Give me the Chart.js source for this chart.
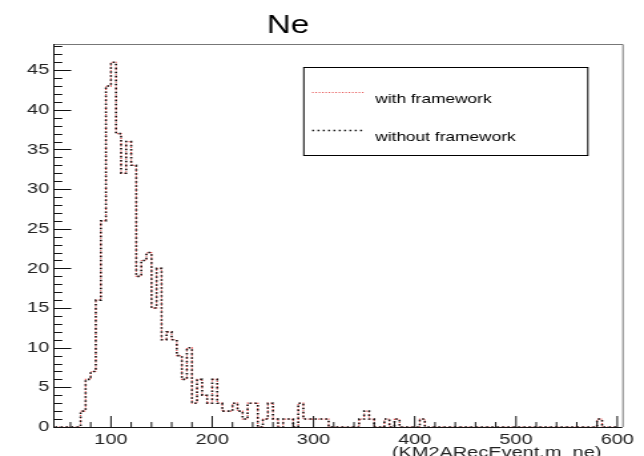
<!DOCTYPE html>
<html lang="en">
<head>
  <meta charset="UTF-8" />
  <title>Ne</title>
  <script src="https://cdn.jsdelivr.net/npm/chart.js"></script>
  <style>
    html, body { margin: 0; padding: 0; background: #fff; overflow: hidden; }
    /* the original ROOT canvas was stretched sideways, so the canvas is too */
    #neChart { display: block; transform: scaleX(1.3306); transform-origin: 0 0; }
  </style>
</head>
<body>
  <canvas id="neChart" width="484" height="456"></canvas>

  <script>
    // histogram binning: 5 wide, first low edge at 45
    const binStart = 45;
    const binWidth = 5;

    // counts per bin, 10 bins per row (45..90, 95..140, ...)
    const withFramework = [
      0, 0, 0, 0, 0, 2, 6, 7, 16, 26,
      43, 46, 37, 32, 36, 33, 19, 21, 22, 15,
      20, 11, 12, 11, 9, 6, 10, 3, 6, 4,
      3, 6, 3, 2, 2, 3, 2, 1, 3, 3,
      0, 1, 3, 1, 0, 1, 1, 0, 3, 1,
      1, 1, 1, 1, 0, 0, 0, 0, 0, 0,
      1, 2, 1, 0, 0, 1, 0, 1, 0, 0,
      0, 0, 1, 0, 0, 0, 0, 0, 0, 0,
      0, 0, 0, 0, 0, 0, 0, 0, 0, 0,
      0, 0, 0, 0, 0, 0, 0, 0, 0, 0,
      0, 0, 0, 0, 0, 0, 0, 1, 0, 0,
      0
    ];
    const withoutFramework = [
      0, 0, 0, 0, 0, 2, 6, 7, 16, 26,
      43, 46, 37, 32, 36, 33, 19, 21, 22, 15,
      20, 11, 12, 11, 9, 6, 10, 3, 6, 4,
      3, 6, 3, 2, 2, 3, 2, 1, 3, 3,
      0, 1, 3, 1, 0, 1, 1, 0, 3, 1,
      1, 1, 1, 1, 0, 0, 0, 0, 0, 0,
      1, 2, 1, 0, 0, 1, 0, 1, 0, 0,
      0, 0, 1, 0, 0, 0, 0, 0, 0, 0,
      0, 0, 0, 0, 0, 0, 0, 0, 0, 0,
      0, 0, 0, 0, 0, 0, 0, 0, 0, 0,
      0, 0, 0, 0, 0, 0, 0, 1, 0, 0,
      0
    ];

    const seriesLabels = ['with framework', 'without framework'];
    const titleText = 'Ne';
    const xTitle = '(KM2ARecEvent.m_ne)';

    const FONT = '"Liberation Sans", Arial, Helvetica, sans-serif';

    // low edge of every bin, plus the closing edge
    function stepPoints(counts) {
      const pts = counts.map((c, i) => ({ x: binStart + i * binWidth, y: c }));
      pts.push({ x: binStart + counts.length * binWidth, y: 0 });
      return pts;
    }

    // ROOT look: ticks inside the frame, boxed legend, title, axis title
    const rootFrame = {
      id: 'rootFrame',
      afterDraw(chart) {
        const ctx = chart.ctx;
        const a = chart.chartArea;
        const xs = chart.scales.x;
        const ys = chart.scales.y;
        ctx.save();

        // frame top / right
        ctx.strokeStyle = '#777';
        ctx.lineWidth = 1;
        ctx.beginPath();
        ctx.moveTo(a.left, a.top + 0.5);
        ctx.lineTo(a.right + 0.5, a.top + 0.5);
        ctx.lineTo(a.right + 0.5, a.bottom);
        ctx.stroke();

        // axes
        ctx.strokeStyle = '#111';
        ctx.beginPath();
        ctx.moveTo(a.left + 0.5, a.top);
        ctx.lineTo(a.left + 0.5, a.bottom + 0.5);
        ctx.lineTo(a.right, a.bottom + 0.5);
        ctx.stroke();

        ctx.beginPath();
        for (let v = 0; v <= ys.max; v++) {
          const py = Math.round(ys.getPixelForValue(v)) + 0.5;
          const len = v % 5 === 0 ? 13.5 : 6.8;
          ctx.moveTo(a.left, py);
          ctx.lineTo(a.left + len, py);
        }
        for (let v = 60; v <= xs.max; v += 20) {
          const px = xs.getPixelForValue(v);
          const len = v % 100 === 0 ? 11 : 5;
          ctx.moveTo(px, a.bottom);
          ctx.lineTo(px, a.bottom - len);
        }
        ctx.stroke();

        // title
        ctx.fillStyle = '#000';
        ctx.font = '25px ' + FONT;
        ctx.textAlign = 'center';
        ctx.textBaseline = 'alphabetic';
        ctx.fillText(titleText, 216.5, 33);

        // x axis title, cut by the bottom edge
        ctx.font = '15px ' + FONT;
        ctx.textAlign = 'right';
        ctx.fillStyle = '#222';
        ctx.fillText(xTitle, 452, 457);

        // legend box
        const bx = 227.8, by = 67, bw = 213.5, bh = 88;
        ctx.fillStyle = '#fff';
        ctx.fillRect(bx, by, bw, bh);
        ctx.strokeStyle = '#000';
        ctx.strokeRect(bx + 0.5, by + 0.5, bw, bh);

        const rows = [92, 130];
        const textRows = [99, 137];
        ctx.font = '13px ' + FONT;
        ctx.textAlign = 'left';
        ctx.textBaseline = 'middle';
        chart.data.datasets.forEach((ds, i) => {
          ctx.save();
          ctx.strokeStyle = ds.borderColor;
          ctx.lineWidth = ds.borderWidth;
          ctx.setLineDash(ds.borderDash);
          ctx.beginPath();
          ctx.moveTo(234.6, rows[i] + 0.5);
          ctx.lineTo(274.4, rows[i] + 0.5);
          ctx.stroke();
          ctx.restore();
          ctx.fillStyle = '#000';
          ctx.fillText(ds.label, 282, textRows[i]);
        });

        ctx.restore();
      }
    };

    const tickFont = { family: FONT, size: 15 };

    new Chart(document.getElementById('neChart'), {
      type: 'line',
      data: {
        datasets: [
          {
            label: seriesLabels[0],
            data: stepPoints(withFramework),
            borderColor: 'rgba(225, 40, 40, 0.85)',
            borderWidth: 1.2,
            borderDash: [1, 1.5],
            stepped: true,
            pointRadius: 0,
            fill: false,
            order: 1
          },
          {
            label: seriesLabels[1],
            data: stepPoints(withoutFramework),
            borderColor: '#111',
            borderWidth: 1.6,
            borderDash: [1.5, 2.5],
            stepped: true,
            pointRadius: 0,
            fill: false,
            order: 0
          }
        ]
      },
      options: {
        responsive: false,
        animation: false,
        layout: { padding: { top: 44, right: 16.3, left: 0, bottom: 0 } },
        plugins: {
          legend: { display: false },
          tooltip: { enabled: false },
          title: { display: false }
        },
        scales: {
          x: {
            type: 'linear',
            min: 43,
            max: 605,
            grid: { display: false, drawTicks: false },
            border: { display: false },
            ticks: {
              stepSize: 100,
              includeBounds: false,
              autoSkip: false,
              maxRotation: 0,
              padding: 4,
              color: '#222',
              font: tickFont
            },
            afterFit: s => { s.height = 29; }
          },
          y: {
            min: 0,
            max: 48.3,
            grid: { display: false, drawTicks: false },
            border: { display: false },
            ticks: {
              stepSize: 5,
              includeBounds: false,
              padding: 3,
              color: '#222',
              font: tickFont
            },
            afterFit: s => { s.width = 40; }
          }
        }
      },
      plugins: [rootFrame]
    });
  </script>
</body>
</html>
